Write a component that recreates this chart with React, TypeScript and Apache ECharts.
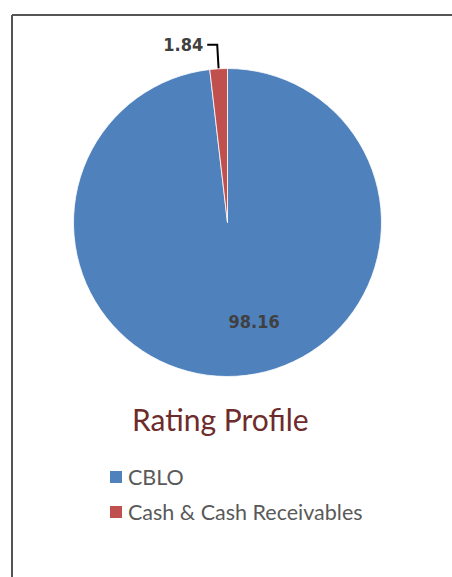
import React, { useEffect, useRef } from "react";
import * as echarts from "echarts";

const categories = ["CBLO", "Cash & Cash Receivables"];
const values = [98.16, 1.84];
const colors = ["#4F81BD", "#C0504D"];
const titleText = "Rating Profile";

export default function App() {
  const ref = useRef<HTMLDivElement>(null);
  useEffect(() => {
    document.body.style.margin = "0";
    const chart = echarts.init(ref.current!, null, { renderer: "svg" });
    const labelFont = "'DejaVu Sans Condensed', sans-serif";
    chart.setOption({
      animation: false,
      backgroundColor: "#ffffff",
      title: {
        text: titleText,
        left: 132,
        top: 404,
        padding: 0,
        textStyle: {
          fontFamily: "Lato, sans-serif",
          fontWeight: "normal",
          fontSize: 30,
          color: "#6E2B2B",
        },
      },
      legend: {
        orient: "vertical",
        left: 108,
        top: 466,
        padding: 0,
        icon: "rect",
        itemWidth: 14,
        itemHeight: 14,
        itemGap: 13,
        textStyle: {
          fontFamily: "Lato, sans-serif",
          fontSize: 21.5,
          lineHeight: 21,
          color: "#595959",
        },
        data: categories,
      },
      graphic: [
        { type: "line", shape: { x1: 12, y1: 15, x2: 452, y2: 15 }, style: { stroke: "#555", lineWidth: 2 } },
        { type: "line", shape: { x1: 12, y1: 15, x2: 12, y2: 577 }, style: { stroke: "#555", lineWidth: 2 } },
      ],
      series: [
        {
          type: "pie",
          center: [227.5, 222.5],
          radius: 154,
          startAngle: 90,
          clockwise: true,
          itemStyle: { borderColor: "#ffffff", borderWidth: 0.8 },
          label: {
            fontFamily: labelFont,
            fontWeight: "bold",
            fontSize: 18,
            color: "#404040",
            formatter: (p: any) => p.value.toFixed(2),
          },
          labelLine: { lineStyle: { color: "#000", width: 2 } },
          data: categories.map((name, i) => ({
            name,
            value: values[i],
            itemStyle: { color: colors[i] },
            label:
              i === 0
                ? { position: "inside", offset: [22, 19] }
                : { position: "outside", distanceToLabelLine: 4 },
            labelLine: i === 0 ? { show: false } : { show: true, length: 24, length2: 10 },
          })),
        },
      ],
    });
    return () => chart.dispose();
  }, []);
  return <div ref={ref} style={{ width: 452, height: 577 }} />;
}
